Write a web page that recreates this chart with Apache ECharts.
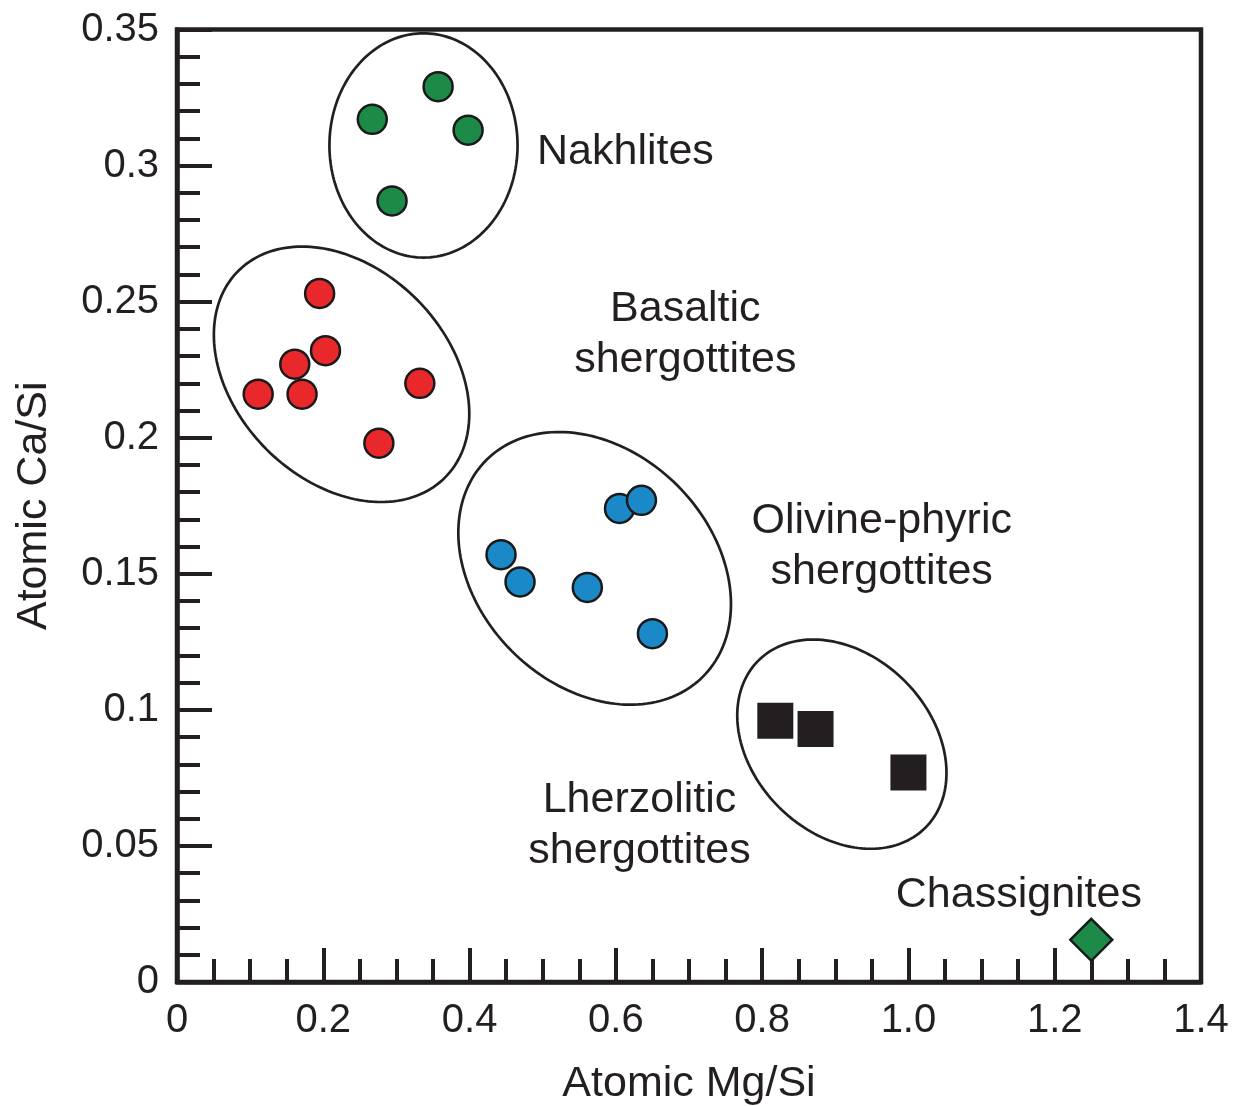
<!DOCTYPE html>
<html>
<head>
<meta charset="utf-8">
<script src="https://cdn.jsdelivr.net/npm/echarts@6/dist/echarts.min.js"></script>
<style>
html,body{margin:0;padding:0;background:#fff;}
#chart{width:1236px;height:1106px;}
</style>
</head>
<body>
<div id="chart"></div>
<script>
// ---- Data ----
const xTickLabels = ['0', '0.2', '0.4', '0.6', '0.8', '1.0', '1.2', '1.4'];
const yTickLabels = ['0', '0.05', '0.1', '0.15', '0.2', '0.25', '0.3', '0.35'];

const nakhliteMg = [0.267, 0.357, 0.398, 0.294];
const nakhliteCa = [0.317, 0.329, 0.313, 0.287];

const basalticMg = [0.195, 0.161, 0.111, 0.203, 0.171, 0.332, 0.276];
const basalticCa = [0.253, 0.227, 0.216, 0.232, 0.216, 0.220, 0.198];

const olivineMg = [0.605, 0.635, 0.443, 0.469, 0.561, 0.650];
const olivineCa = [0.174, 0.177, 0.157, 0.147, 0.145, 0.128];

const lherzMg = [0.818, 0.873, 1.000];
const lherzCa = [0.096, 0.093, 0.077];

const chassMg = [1.250];
const chassCa = [0.0155];

// group outlines: centre (Mg/Si, Ca/Si), semi-axes (in Mg/Si units), tilt (deg)
const ellipseCx = [0.337, 0.225, 0.571, 0.909];
const ellipseCy = [0.3074, 0.2233, 0.1520, 0.0874];
const ellipseA = [0.1533, 0.1998, 0.2094, 0.1615];
const ellipseB = [0.1286, 0.1451, 0.1601, 0.1218];
const ellipseTilt = [90, 45, 45, 45];

// group names and anchors (Mg/Si, Ca/Si)
const groupNames = ['Nakhlites', 'Basaltic\nshergottites', 'Olivine-phyric\nshergottites', 'Lherzolitic\nshergottites', 'Chassignites'];
const groupLabelMg = [0.6131, 0.6950, 0.9635, 0.6323, 1.151];
const groupLabelCa = [0.3048, 0.2380, 0.1600, 0.0576, 0.0321];

// ---- Build ----
const zip = (a, b) => a.map((v, i) => [v, b[i]]);
const INK = '#231f20';
const FONT = '"Liberation Sans", Arial, Helvetica, sans-serif';

const ellipseData = ellipseCx.map((c, i) => [c, ellipseCy[i], ellipseA[i], ellipseB[i], ellipseTilt[i]]);
const labelData = groupNames.map((n, i) => [groupLabelMg[i], groupLabelCa[i], i]);

const chart = echarts.init(document.getElementById('chart'), null, {renderer: 'canvas'});

const dotStyle = (color) => ({color: color, borderColor: '#1a1a1a', borderWidth: 2.5, opacity: 1});

const option = {
  animation: false,
  backgroundColor: '#ffffff',
  grid: {left: 177, right: 35, top: 29.5, bottom: 124, containLabel: false, outerBoundsMode: 'none',
    show: true, borderColor: INK, borderWidth: 4.5, backgroundColor: 'transparent'},
  xAxis: {
    type: 'value', min: 0, max: 1.4, interval: 0.2,
    name: 'Atomic Mg/Si', nameLocation: 'middle', nameGap: 81,
    nameTextStyle: {fontFamily: FONT, fontSize: 43, color: INK},
    axisLine: {show: true, onZero: false, lineStyle: {color: INK, width: 4.5}},
    axisTick: {show: true, inside: true, length: 34, lineStyle: {color: INK, width: 4}},
    minorTick: {show: true, splitNumber: 4, length: 23, lineStyle: {color: INK, width: 4}},
    splitLine: {show: false},
    axisLabel: {margin: 19, fontFamily: FONT, fontSize: 40, color: INK,
      formatter: (v) => xTickLabels[Math.round(v / 0.2)]}
  },
  yAxis: {
    type: 'value', min: 0, max: 0.35, interval: 0.05,
    name: 'Atomic Ca/Si', nameLocation: 'middle', nameGap: 121,
    nameTextStyle: {fontFamily: FONT, fontSize: 43, color: INK},
    axisLine: {show: true, onZero: false, lineStyle: {color: INK, width: 4.5}},
    axisTick: {show: true, inside: true, length: 35, lineStyle: {color: INK, width: 4}},
    minorTick: {show: true, splitNumber: 5, length: 23, lineStyle: {color: INK, width: 4}},
    splitLine: {show: false},
    axisLabel: {margin: 18, fontFamily: FONT, fontSize: 40, color: INK,
      formatter: (v) => yTickLabels[Math.round(v / 0.05)]}
  },
  series: [
    {
      type: 'custom', name: 'outlines', z: 1, silent: true,
      encode: {x: 0, y: 1},
      data: ellipseData,
      renderItem: function (params, api) {
        const c = api.coord([api.value(0), api.value(1)]);
        const unit = api.size([1, 0])[0];
        const a = api.value(2) * unit, b = api.value(3) * unit;
        const t = api.value(4) * Math.PI / 180;
        const pts = [];
        const N = 180;
        for (let k = 0; k < N; k++) {
          const p = 2 * Math.PI * k / N;
          const ex = a * Math.cos(p), ey = b * Math.sin(p);
          pts.push([c[0] + ex * Math.cos(t) - ey * Math.sin(t), c[1] + ex * Math.sin(t) + ey * Math.cos(t)]);
        }
        return {type: 'polygon', shape: {points: pts}, style: {fill: 'none', stroke: INK, lineWidth: 2.7}};
      }
    },
    {
      type: 'custom', name: 'names', z: 2, silent: true,
      encode: {x: 0, y: 1},
      data: labelData,
      renderItem: function (params, api) {
        const c = api.coord([api.value(0), api.value(1)]);
        return {type: 'text', style: {text: groupNames[api.value(2)], x: c[0], y: c[1], align: 'center', verticalAlign: 'middle',
          fontFamily: FONT, fontSize: 43, lineHeight: 51, fill: INK}};
      }
    },
    {type: 'scatter', name: 'Nakhlites', z: 3, symbol: 'circle', symbolSize: 29, data: zip(nakhliteMg, nakhliteCa), itemStyle: dotStyle('#1e8a47')},
    {type: 'scatter', name: 'Basaltic shergottites', z: 3, symbol: 'circle', symbolSize: 29, data: zip(basalticMg, basalticCa), itemStyle: dotStyle('#e8282b')},
    {type: 'scatter', name: 'Olivine-phyric shergottites', z: 3, symbol: 'circle', symbolSize: 29, data: zip(olivineMg, olivineCa), itemStyle: dotStyle('#1b88c8')},
    {type: 'scatter', name: 'Lherzolitic shergottites', z: 3, symbol: 'rect', symbolSize: 36, data: zip(lherzMg, lherzCa), itemStyle: {color: INK, opacity: 1}},
    {type: 'scatter', name: 'Chassignites', z: 3, symbol: 'diamond', symbolSize: [42, 42], data: zip(chassMg, chassCa), itemStyle: dotStyle('#1e8a47')}
  ]
};
chart.setOption(option);
</script>
</body>
</html>
